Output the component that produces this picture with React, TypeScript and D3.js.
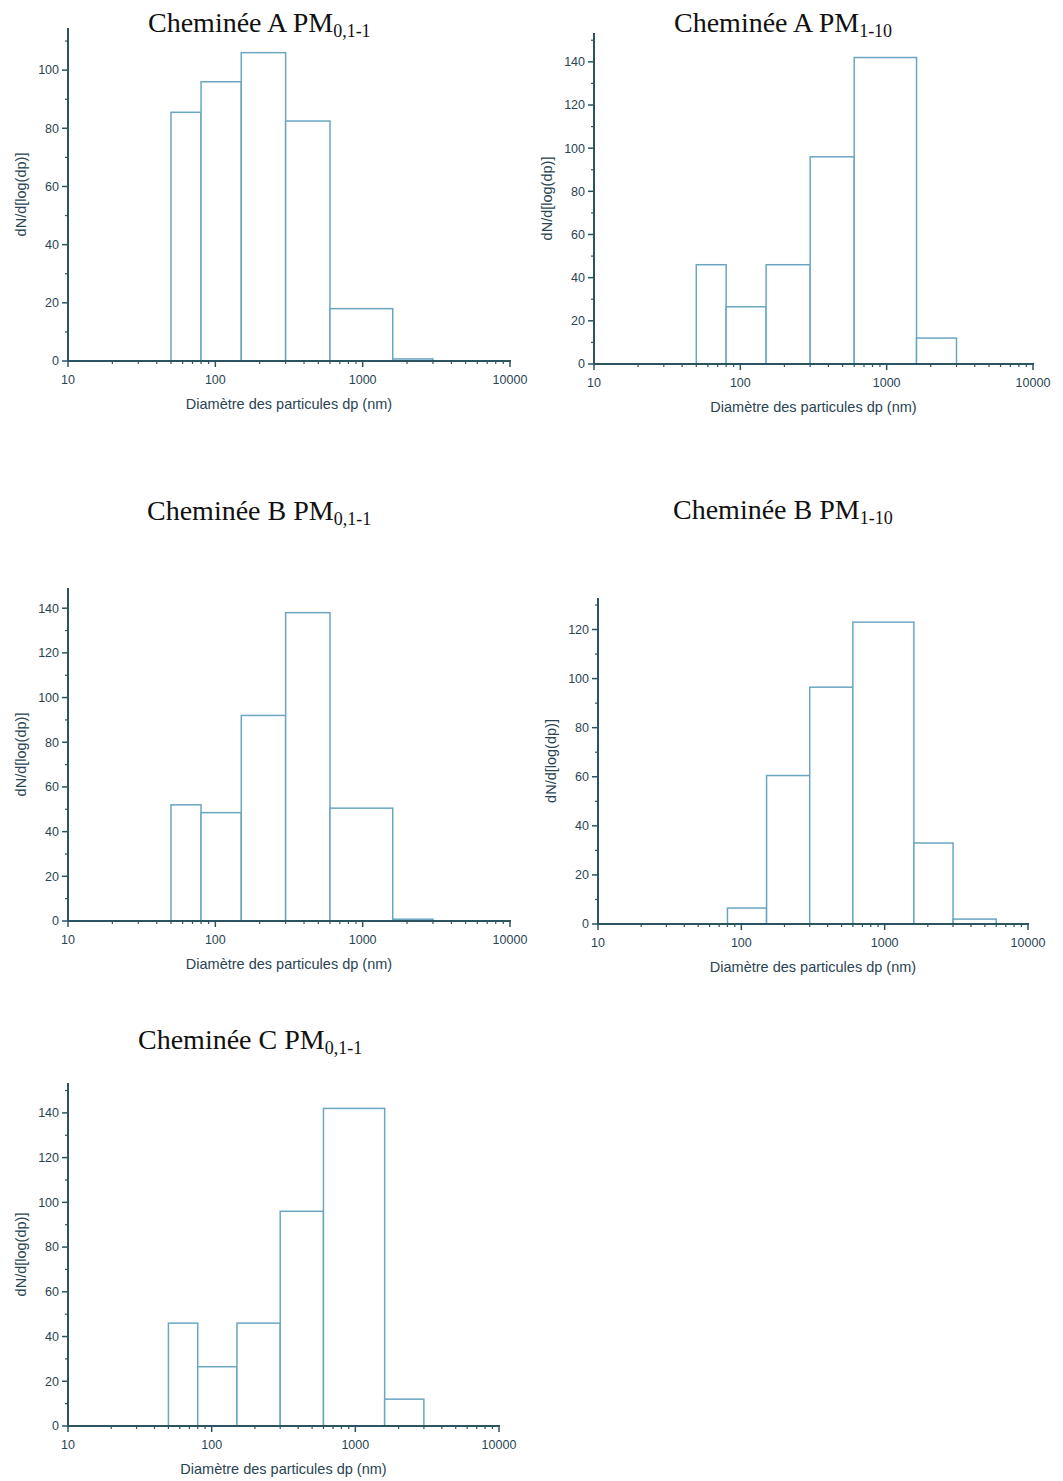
import React from "react";
import * as d3 from "d3";

// ---- data ----
const BIN_EDGES = [50, 80, 150, 300, 600, 1600, 3000, 6000];
const A_PM01_1 = [85.5, 96, 106, 82.5, 18, 0.7];
const A_PM1_10 = [46, 26.5, 46, 96, 142, 12];
const B_PM01_1 = [52, 48.5, 92, 138, 50.5, 0.8];
const B_PM1_10 = [0, 6.5, 60.5, 96.5, 123, 33, 2];
const C_PM01_1 = [46, 26.5, 46, 96, 142, 12];
const X_TICKS = [10, 100, 1000, 10000];
const Y_TICKS_100 = [0, 20, 40, 60, 80, 100];
const Y_TICKS_120 = [0, 20, 40, 60, 80, 100, 120];
const Y_TICKS_140 = [0, 20, 40, 60, 80, 100, 120, 140];
const X_LABEL = "Diamètre des particules dp (nm)";
const Y_LABEL = "dN/d[log(dp)]";

// ---- layout ----
const PANELS = [
  { title: "Cheminée A PM", sub: "0,1-1", values: A_PM01_1, yTicks: Y_TICKS_100, x0: 68, x1: 510, y0: 361, yTop: 28, tx: 148, ty: 32 },
  { title: "Cheminée A PM", sub: "1-10", values: A_PM1_10, yTicks: Y_TICKS_140, x0: 594, x1: 1033, y0: 364, yTop: 33, tx: 674, ty: 32 },
  { title: "Cheminée B PM", sub: "0,1-1", values: B_PM01_1, yTicks: Y_TICKS_140, x0: 68, x1: 510, y0: 921, yTop: 588, tx: 147, ty: 520 },
  { title: "Cheminée B PM", sub: "1-10", values: B_PM1_10, yTicks: Y_TICKS_120, x0: 598, x1: 1028, y0: 924, yTop: 598, tx: 673, ty: 519 },
  { title: "Cheminée C PM", sub: "0,1-1", values: C_PM01_1, yTicks: Y_TICKS_140, x0: 68, x1: 499, y0: 1426, yTop: 1083, tx: 138, ty: 1049 },
];

const AXIS = "#2b5463";
const BAR = "#6aa6c2";
const TEXT = "#2a4453";
const SANS = "'Liberation Sans', Arial, sans-serif";

function Panel({ p }: { p: (typeof PANELS)[number] }) {
  const x = d3.scaleLog().domain([10, 10000]).range([p.x0, p.x1]);
  const top = (d3.max(p.values) as number) * 1.08;
  const y = d3.scaleLinear().domain([0, top]).range([p.y0, p.yTop]);
  const minorX: number[] = [];
  [10, 100, 1000].forEach((dec) => {
    for (let k = 2; k <= 9; k++) minorX.push(dec * k);
  });
  const step = p.yTicks[1] - p.yTicks[0];
  const minorY = d3.range(step / 2, top, step).filter((v) => !p.yTicks.includes(v));
  const cx = (p.x0 + p.x1) / 2;
  const cy = (p.y0 + p.yTop) / 2;
  return (
    <g>
      <text x={p.tx} y={p.ty} fontFamily="'Liberation Serif', 'Times New Roman', serif" fontSize={28} fill="#111">
        {p.title}
        <tspan dy={5} fontSize={18}>{p.sub}</tspan>
      </text>
      {p.values.map((v, i) =>
        v > 0 ? (
          <rect
            key={i}
            x={x(BIN_EDGES[i])}
            y={y(v)}
            width={x(BIN_EDGES[i + 1]) - x(BIN_EDGES[i])}
            height={p.y0 - y(v)}
            fill="white"
            stroke={BAR}
            strokeWidth={1.5}
          />
        ) : null
      )}
      {/* y axis */}
      <line x1={p.x0} x2={p.x0} y1={p.y0} y2={p.yTop} stroke={AXIS} strokeWidth={2} />
      {p.yTicks.map((t) => (
        <g key={"y" + t}>
          <line x1={p.x0 - 6} x2={p.x0} y1={y(t)} y2={y(t)} stroke={AXIS} strokeWidth={1.5} />
          <text x={p.x0 - 9} y={y(t)} dy="0.35em" textAnchor="end" fontFamily={SANS} fontSize={12.5} fill={TEXT}>
            {t}
          </text>
        </g>
      ))}
      {minorY.map((t) => (
        <line key={"my" + t} x1={p.x0 - 3} x2={p.x0} y1={y(t)} y2={y(t)} stroke={AXIS} strokeWidth={1.2} />
      ))}
      {/* x axis */}
      <line x1={p.x0 - 1} x2={p.x1 + 1} y1={p.y0} y2={p.y0} stroke={AXIS} strokeWidth={2} />
      {X_TICKS.map((t) => (
        <g key={"x" + t}>
          <line x1={x(t)} x2={x(t)} y1={p.y0} y2={p.y0 + 6} stroke={AXIS} strokeWidth={1.5} />
          <text x={x(t)} y={p.y0 + 23} textAnchor="middle" fontFamily={SANS} fontSize={12.5} fill={TEXT}>
            {t}
          </text>
        </g>
      ))}
      {minorX.map((t) => (
        <line key={"mx" + t} x1={x(t)} x2={x(t)} y1={p.y0} y2={p.y0 + 3} stroke={AXIS} strokeWidth={1.2} />
      ))}
      <text x={cx} y={p.y0 + 48} textAnchor="middle" fontFamily={SANS} fontSize={14.5} fill={TEXT}>
        {X_LABEL}
      </text>
      <text
        transform={`translate(${p.x0 - 47},${cy}) rotate(-90)`}
        dy="0.35em"
        textAnchor="middle"
        fontFamily={SANS}
        fontSize={14.5}
        fill={TEXT}
      >
        {Y_LABEL}
      </text>
    </g>
  );
}

export default function App() {
  return (
    <svg
      width={1063}
      height={1481}
      style={{ position: "absolute", left: 0, top: 0, background: "white" }}
    >
      <rect width={1063} height={1481} fill="white" />
      {PANELS.map((p, i) => (
        <Panel key={i} p={p} />
      ))}
    </svg>
  );
}
